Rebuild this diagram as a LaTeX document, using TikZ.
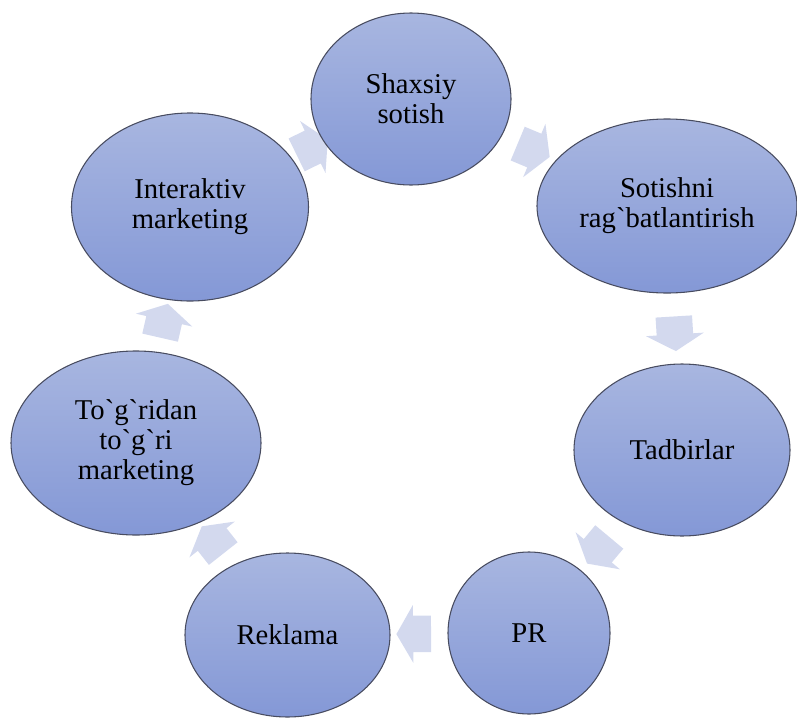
\documentclass[tikz,border=0pt]{standalone}
\usepackage{fontspec}
\setmainfont{Liberation Serif}[Ligatures=TeXOff]
\usetikzlibrary{shapes.geometric,shapes.arrows,backgrounds}
\definecolor{ovaltop}{RGB}{168,182,224}
\definecolor{ovalbot}{RGB}{132,152,214}
\definecolor{ovalline}{RGB}{72,76,96}
\definecolor{arrfill}{RGB}{211,217,238}
\begin{document}
\begin{tikzpicture}[x=0.75pt,y=-0.75pt,
  oval/.style={ellipse,draw=ovalline,line width=0.8pt,top color=ovaltop,bottom color=ovalbot,inner sep=0pt,align=center,font=\fontsize{21.5}{22.5}\selectfont},
  flow/.style={single arrow,draw=none,fill=arrfill,inner xsep=0pt,inner ysep=13.5pt,minimum height=26pt,single arrow head extend=8pt,single arrow tip angle=120,sloped,allow upside down}]
\useasboundingbox (0,0) rectangle (797,718);
\node[oval,minimum width=150pt,minimum height=129pt] (S) at (411,99) {Shaxsiy\\sotish};
\node[oval,minimum width=195pt,minimum height=130.5pt] (R) at (667,206) {Sotishni\\rag`batlantirish};
\node[oval,minimum width=162pt,minimum height=129pt] (T) at (682,450) {Tadbirlar};
\node[oval,minimum width=121.5pt,minimum height=121.5pt] (P) at (529,633) {PR};
\node[oval,minimum width=153.75pt,minimum height=123pt] (K) at (287.5,635) {Reklama};
\node[oval,minimum width=187.5pt,minimum height=138pt] (G) at (136,443) {To`g`ridan\\to`g`ri\\marketing};
\node[oval,minimum width=177.75pt,minimum height=141pt] (I) at (190,207) {Interaktiv\\marketing};
\begin{scope}[on background layer]
\path (S) -- node[flow] {} (R);
\path (R) -- node[flow] {} (T);
\path (T) -- node[flow] {} (P);
\path (P) -- node[flow] {} (K);
\path (K) -- node[flow] {} (G);
\path (G) -- node[flow] {} (I);
\path (I) -- node[flow] {} (S);
\end{scope}
\end{tikzpicture}
\end{document}
